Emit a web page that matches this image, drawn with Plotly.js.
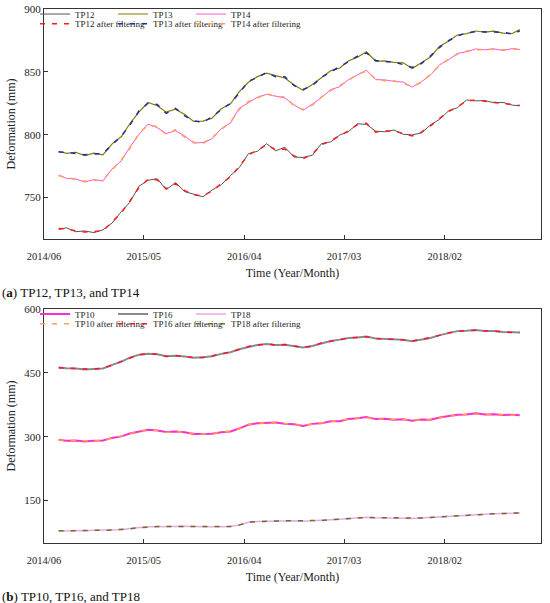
<!DOCTYPE html>
<html>
<head>
<meta charset="utf-8">
<script src="https://cdn.plot.ly/plotly-3.0.1.min.js"></script>
<style>html,body{margin:0;padding:0;background:#fff;}#chart{width:550px;height:603px;}</style>
</head>
<body>
<div id="chart"></div>
<script>
// ---------- data ----------
const dates = ['2014-07-20','2014-08-15','2014-09-15','2014-10-15','2014-11-15','2014-12-15',
'2015-01-15','2015-02-15','2015-03-15','2015-04-15','2015-05-15','2015-06-15','2015-07-15','2015-08-15','2015-09-15','2015-10-15','2015-11-15','2015-12-15',
'2016-01-15','2016-02-15','2016-03-15','2016-04-15','2016-05-15','2016-06-15','2016-07-15','2016-08-15','2016-09-15','2016-10-15','2016-11-15','2016-12-15',
'2017-01-15','2017-02-15','2017-03-15','2017-04-15','2017-05-15','2017-06-15','2017-07-15','2017-08-15','2017-09-15','2017-10-15','2017-11-15','2017-12-15',
'2018-01-15','2018-02-15','2018-03-15','2018-04-15','2018-05-15','2018-06-15','2018-07-15','2018-08-15','2018-09-15','2018-10-10'];

// Panel (a)
const tp12Raw = [724.6,725.9,722.8,723.4,722.1,724.2,729.7,738.9,746.2,759,763.7,765,756.2,761.9,754.7,752.8,750.6,755.9,760.2,767.4,773.7,784.9,786.8,792.8,787.2,790,782.2,781.9,783.7,792.8,794.3,799.8,802.3,808.7,808.2,802.8,802.3,803.7,800.3,799.8,801.4,807.7,812.3,819.2,821.4,827.6,826.9,827.1,825.4,825.6,823.5,823];
const tp13Raw = [786.8,785.2,786,783.4,785.3,784,792.7,798.5,808.7,818.2,825.6,823,817.9,820.3,816,810.5,810.8,813.1,820.6,824.6,834.1,841.7,846.2,848.9,847,845.1,839.5,835.3,839.9,845,850.8,853,858.6,861.7,866,858.4,858.7,857.5,857.2,852.6,857.1,861.8,870.4,874.5,879.3,880.4,882.5,881.6,882.4,880.8,880.5,883.6];
const tp14Raw = [767.9,765.2,764.8,762.3,764.2,763.1,772.8,779.3,790,800.2,808.4,805.6,800.9,803.2,799,793.3,793.8,796.7,804.8,809.3,821,825.7,829.8,832.1,830.9,829.2,823.7,819.4,824.3,829.4,835.8,838.2,843.7,847.3,851.3,843.8,843.6,842.4,841.9,837.8,842.2,847.3,855.7,859.8,864.6,866,868.2,867.5,868.3,867,868.5,867.7];
const tp12Filt = [725.3,725,723.5,722.5,723,723.5,730.5,738,747,758,764.5,764,757,761,755.5,752,751.5,755,761,766.5,774.5,784,787.5,792,788,788.5,783,781,784.5,792,795,799,803,808,809,802,803,803,801,799,802,807,813,818.5,822,827,827.5,826.5,826,825,824,823.3];
const tp13Filt = [786.3,786,785,784,784.5,785,792,799,807.5,819,825,824,817,821,815,811,810,814,820,825,833,842.5,845.5,849.5,846,846,839,836,839,845.5,850,854,858,862.5,865,859,858,858,856,853.5,856.5,862.5,869.5,875,878.5,881,882,882,881.8,881.5,880,882.6];
const tp14Filt = [767.3,766,764,763,763.5,764,772,780,789,801,807.5,806.5,800,804,798,794,793,797.5,804,810,820,826.5,829,833,830,830,823,820,823.5,830,835,839,843,848,850.5,844.5,843,843,841,838.5,841.5,848,855,860.5,864,866.5,867.5,868,867.8,867.5,868,868];

// Panel (b)
const tp10Raw = [292.6,290.2,291,288.7,290.4,290.8,297,300.6,307.4,311.8,316,314.2,311,311.8,310.4,306.2,307,306.7,310.5,312.3,319,328.2,331.5,332.2,333,330.2,329,325.3,330,331.2,336,336.3,341.5,343.2,346,341.2,342,339.8,341,337.3,340,339.8,345,348.3,351.5,352,355,352,352.8,350.9,351.7,350.2];
const tp16Raw = [462.6,460.5,460.1,457.6,459,460.4,468.7,476.4,485.6,492.5,494.7,493.5,489,490.4,488.1,485.5,486.6,489,494.5,498.5,505.6,511.4,515.6,517.5,515.6,516,513.5,509.5,513,519.4,524.6,528,532,533,535.5,530.5,529.5,528.3,527.5,524.5,529,532,538.6,543.5,548,549,550.5,548.2,548.5,546.1,545,544.6];
const tp18Raw = [78.9,78.2,79.4,78.7,79.8,79.7,80.9,81.2,83.9,85.7,88.4,88.2,88.9,88.7,89.4,88.7,89.3,88.2,88.4,88.7,92.4,98.7,100.4,101.2,102.4,101.7,102.3,101.2,101.9,102.7,104.9,105.7,107.4,108.2,110.4,109.2,109.4,108.2,108.4,107.5,108.9,109.7,111.9,112.7,114.4,114.7,116.9,117.2,118.9,119.2,120.7,120.5];
const tp10Filt = [291.8,291,290,289.5,289.5,291.5,296,301.5,306.5,312.5,315,315,310,312.5,309.5,307,306,307.5,309.5,313,318,329,330.5,333,332,331,328,326,329,332,335,337,340.5,344,345,342,341,340.5,340,338,339,340.5,344,349,350.5,352.5,353,352.5,352,351.5,351,350.6];
const tp16Filt = [462,461,459.5,458,458.5,461,468,477,485,493,494,494,488.5,491,487.5,486,486,489.5,494,499,505,512,515,518,515,516.5,513,510,512.5,520,524,528.5,531.5,533.5,535,531,529,528.8,527,525,528.5,532.5,538,544,547.5,549.5,550,548.7,548,546.6,544.5,545];
const tp18Filt = [78.5,78.5,79,79,79.5,80,80.5,81.5,83.5,86,88,88.5,88.5,89,89,89,89,88.5,88,89,92,99,100,101.5,102,102,102,101.5,101.5,103,104.5,106,107,108.5,110,109.5,109,108.5,108,107.8,108.5,110,111.5,113,114,115,116.5,117.5,118.5,119.5,120.3,120.8];

const tickVals = ['2014-06-01','2015-05-01','2016-04-01','2017-03-01','2018-02-01'];
const tickText = ['2014/06','2015/05','2016/04','2017/03','2018/02'];

// ---------- chart ----------
const FONT = "'Liberation Serif', 'Times New Roman', Times, serif";
function raw(name, y, color, w, xa, ya, leg) {
  return {x: dates, y: y, name: name, type: 'scatter', mode: 'lines', xaxis: xa, yaxis: ya, legend: leg,
          line: {color: color, width: w}};
}
function filt(name, y, color, xa, ya, leg) {
  return {x: dates, y: y, name: name, type: 'scatter', mode: 'lines', xaxis: xa, yaxis: ya, legend: leg,
          line: {color: color, width: 1.5, dash: '5px,7px'}};
}
const traces = [
  raw('TP12', tp12Raw, '#555555', 1, 'x', 'y', 'legend'),
  raw('TP13', tp13Raw, '#857a00', 1.2, 'x', 'y', 'legend2'),
  raw('TP14', tp14Raw, '#ff55cc', 1, 'x', 'y', 'legend3'),
  filt('TP12 after filtering', tp12Filt, '#ff1a1a', 'x', 'y', 'legend4'),
  filt('TP13 after filtering', tp13Filt, '#1a2fa8', 'x', 'y', 'legend5'),
  filt('TP14 after filtering', tp14Filt, '#ffa060', 'x', 'y', 'legend6'),
  raw('TP10', tp10Raw, '#ff2fc8', 2, 'x2', 'y2', 'legend7'),
  raw('TP16', tp16Raw, '#8a8a8a', 2, 'x2', 'y2', 'legend8'),
  raw('TP18', tp18Raw, '#e8a8e8', 1.5, 'x2', 'y2', 'legend9'),
  filt('TP10 after filtering', tp10Filt, '#ffa050', 'x2', 'y2', 'legend10'),
  filt('TP16 after filtering', tp16Filt, '#ff1030', 'x2', 'y2', 'legend11'),
  filt('TP18 after filtering', tp18Filt, '#6e6e2a', 'x2', 'y2', 'legend12')
];

function xaxis(anchor) {
  return {anchor: anchor, domain: [0, 1], type: 'date', range: ['2014-06-01', '2018-12-20'],
    tickvals: tickVals, ticktext: tickText, ticks: 'inside', ticklen: 4, tickcolor: '#333',
    ticklabelstandoff: 7,
    showline: true, linecolor: '#333', linewidth: 1, mirror: true, showgrid: false, zeroline: false,
    tickfont: {family: FONT, size: 10.5, color: '#222'},
    title: {text: 'Time (Year/Month)', font: {family: FONT, size: 12, color: '#222'}, standoff: 8}};
}
function yaxis(anchor, domain, range, tv) {
  return {anchor: anchor, domain: domain, range: range, tickvals: tv, ticks: 'inside', ticklen: 4,
    tickcolor: '#333', showline: true, linecolor: '#333', linewidth: 1, mirror: true, showgrid: false,
    zeroline: false, tickfont: {family: FONT, size: 11, color: '#222'},
    title: {text: 'Deformation (mm)', font: {family: FONT, size: 12, color: '#222'}, standoff: 6}};
}
function legend(x, y) {
  return {orientation: 'h', x: x, y: y, xanchor: 'left', yanchor: 'middle', itemwidth: 30,
    bgcolor: 'rgba(0,0,0,0)', borderwidth: 0, font: {family: FONT, size: 9, color: '#222'}};
}
const colX = [-0.0181, 0.1388, 0.2958];
const rowY = [0.9906, 0.9725, 0.4288, 0.4107];
const layout = {
  width: 550, height: 603,
  margin: {l: 44, r: 9, t: 9, b: 60, autoexpand: false},
  paper_bgcolor: '#fff', plot_bgcolor: '#fff',
  showlegend: true,
  font: {family: FONT, color: '#222'},
  xaxis: xaxis('y'),
  yaxis: yaxis('x', [0.5693, 1], [717, 900], [750, 800, 850, 900]),
  xaxis2: xaxis('y2'),
  yaxis2: yaxis('x2', [0, 0.4382], [50, 600], [150, 300, 450, 600]),
  annotations: [
    {text: '(<b>a</b>) TP12, TP13, and TP14', xref: 'paper', yref: 'paper', x: -0.0885, y: 0.470,
     xanchor: 'left', yanchor: 'middle', showarrow: false,
     font: {family: FONT, size: 13, color: '#111'}},
    {text: '(<b>b</b>) TP10, TP16, and TP18', xref: 'paper', yref: 'paper', x: -0.0885, y: -0.1011,
     xanchor: 'left', yanchor: 'middle', showarrow: false,
     font: {family: FONT, size: 13, color: '#111'}}
  ]
};
for (let r = 0; r < 4; r++) {
  for (let c = 0; c < 3; c++) {
    const idx = r * 3 + c + 1;
    layout[idx === 1 ? 'legend' : 'legend' + idx] = legend(colX[c], rowY[r]);
  }
}
Plotly.newPlot('chart', traces, layout, {displayModeBar: false, staticPlot: true});
</script>
</body>
</html>
